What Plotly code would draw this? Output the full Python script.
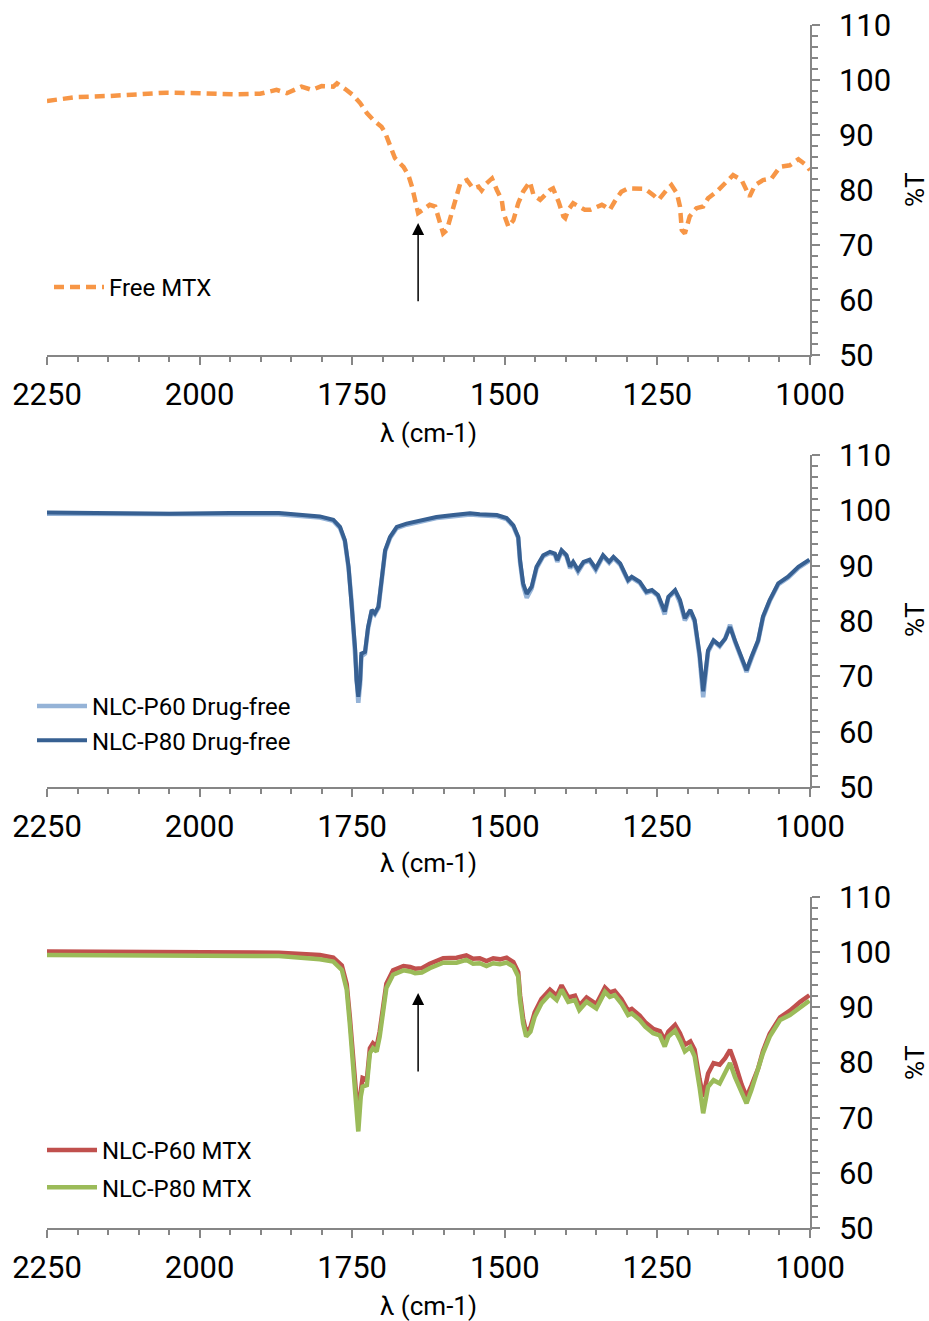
import plotly.graph_objects as go

# ---------------- data: wavenumber (cm-1) and transmittance (%T) ----------------
free_mtx_wn = [2250, 2201, 2147, 2054, 1999, 1945, 1901, 1874, 1857, 1833, 1816, 1800, 1781, 1775,
               1762, 1748, 1737, 1726, 1715, 1702, 1696, 1688, 1680, 1666, 1658, 1652, 1647, 1642,
               1634, 1623, 1614, 1609, 1601, 1595, 1587, 1582, 1573, 1562, 1552, 1543, 1538, 1530,
               1521, 1513, 1505, 1502, 1494, 1486, 1478, 1470, 1459, 1453, 1442, 1426, 1421, 1412,
               1404, 1401, 1396, 1388, 1369, 1360, 1341, 1336, 1328, 1320, 1309, 1298, 1279, 1270,
               1257, 1248, 1235, 1227, 1218, 1213, 1210, 1205, 1197, 1186, 1175, 1167, 1153, 1139,
               1126, 1112, 1104, 1099, 1090, 1077, 1063, 1049, 1033, 1019, 1006, 1000]
free_mtx_t = [96.2, 96.9, 97.1, 97.7, 97.6, 97.4, 97.5, 98.2, 97.6, 98.8, 98.2, 98.9, 98.8, 99.4,
              98.4, 97.2, 95.8, 94.0, 92.7, 91.5, 90.4, 87.9, 85.8, 84.2, 82.7, 80.6, 78.5, 75.8,
              76.4, 77.3, 77.0, 75.2, 72.1, 72.7, 75.8, 78.2, 81.2, 81.8, 80.3, 80.6, 79.9, 81.2,
              82.1, 80.0, 78.2, 75.8, 73.3, 74.5, 77.6, 79.7, 81.5, 79.1, 78.2, 80.0, 80.3, 77.9,
              75.2, 74.9, 76.4, 77.6, 76.4, 76.4, 77.3, 77.0, 76.4, 77.9, 79.7, 80.3, 80.1, 80.2,
              79.1, 78.2, 80.0, 80.9, 79.4, 77.0, 72.7, 72.1, 75.2, 76.7, 77.0, 78.5, 79.7, 81.2,
              82.7, 81.8, 80.0, 78.8, 80.9, 81.8, 82.1, 84.2, 84.5, 85.6, 84.5, 83.6]

drugfree_wn = [2250, 2150, 2050, 1950, 1870, 1803, 1781, 1770, 1762, 1756, 1751, 1745, 1743, 1740,
               1737, 1735, 1729, 1724, 1718, 1713, 1707, 1702, 1696, 1688, 1677, 1661, 1639, 1612,
               1584, 1557, 1541, 1513, 1497, 1486, 1478, 1475, 1470, 1464, 1456, 1448, 1437, 1426,
               1418, 1414, 1407, 1399, 1393, 1388, 1380, 1371, 1361, 1351, 1339, 1329, 1322, 1311,
               1298, 1292, 1279, 1268, 1259, 1249, 1238, 1232, 1221, 1213, 1205, 1196, 1189, 1181,
               1175, 1167, 1158, 1148, 1139, 1131, 1123, 1112, 1104, 1096, 1085, 1077, 1066, 1052,
               1036, 1019, 1001]
p60_drugfree_t = [99.4, 99.3, 99.2, 99.3, 99.3, 98.7, 98.1, 96.8, 94.4, 89.6, 83.5, 74.2, 68.6, 65.2,
                  68.6, 73.6, 74.1, 78.6, 81.8, 81.2, 82.4, 86.6, 92.6, 95.0, 96.8, 97.4, 98.0, 98.6,
                  98.95, 99.25, 99.1, 98.95, 98.4, 97.1, 95.0, 90.6, 86.4, 84.2, 85.9, 89.5, 91.7, 92.3,
                  92.0, 90.7, 92.6, 91.7, 89.5, 90.5, 88.9, 90.5, 90.9, 89.2, 91.7, 90.5, 91.4, 90.2,
                  87.2, 87.8, 86.9, 85.1, 85.4, 84.5, 81.2, 84.2, 85.4, 83.3, 80.1, 81.8, 79.9, 73.6,
                  66.2, 74.4, 76.4, 75.4, 76.8, 79.3, 76.3, 73.2, 70.8, 73.2, 76.3, 80.6, 83.6, 86.6,
                  87.8, 89.6, 90.9]
p80_drugfree_t = [99.6, 99.5, 99.4, 99.5, 99.5, 98.9, 98.3, 97.0, 94.6, 89.8, 83.8, 74.7, 69.3, 66.3,
                  69.3, 74.1, 74.4, 78.9, 82.0, 81.4, 82.6, 86.8, 92.8, 95.2, 97.0, 97.6, 98.2, 98.8,
                  99.15, 99.45, 99.3, 99.15, 98.6, 97.3, 95.2, 91.0, 86.8, 84.9, 86.2, 89.8, 91.9, 92.5,
                  92.2, 91.0, 92.8, 91.9, 89.8, 90.7, 89.2, 90.7, 91.1, 89.5, 91.9, 90.7, 91.6, 90.4,
                  87.4, 88.0, 87.1, 85.3, 85.6, 84.7, 81.7, 84.4, 85.6, 83.8, 80.5, 82.0, 80.2, 74.1,
                  67.3, 74.7, 76.5, 75.6, 76.8, 78.9, 76.5, 73.5, 71.1, 73.5, 76.5, 80.8, 83.8, 86.8,
                  88.0, 89.8, 91.1]

mtx_wn = [2250, 2150, 2050, 1950, 1870, 1803, 1781, 1767, 1759, 1754, 1748, 1743, 1740, 1736,
          1733, 1726, 1721, 1716, 1710, 1705, 1699, 1694, 1683, 1666, 1655, 1647, 1636, 1623,
          1601, 1579, 1563, 1552, 1541, 1530, 1519, 1508, 1497, 1486, 1478, 1475, 1470, 1465,
          1458, 1451, 1440, 1426, 1415, 1407, 1396, 1385, 1378, 1366, 1350, 1336, 1328, 1320,
          1309, 1298, 1292, 1279, 1270, 1257, 1246, 1238, 1232, 1221, 1213, 1205, 1196, 1189,
          1181, 1175, 1167, 1158, 1148, 1139, 1131, 1123, 1112, 1104, 1096, 1085, 1077, 1066,
          1049, 1033, 1016, 1001]
p60_mtx_t = [100.1, 100.0, 99.9, 99.9, 99.9, 99.5, 99.0, 97.6, 94.2, 88.4, 80.0, 73.6, 71.4, 75.4,
             77.2, 76.9, 82.6, 83.5, 82.9, 85.6, 90.9, 94.3, 96.7, 97.5, 97.3, 97.0, 97.1, 97.9,
             98.9, 99.0, 99.4, 98.8, 98.9, 98.4, 98.9, 98.7, 99.0, 98.2, 96.4, 92.2, 88.0, 85.5,
             86.4, 89.1, 91.5, 93.2, 92.1, 94.0, 91.8, 92.1, 90.3, 91.8, 90.6, 93.6, 92.7, 93.0,
             91.5, 89.4, 89.7, 88.5, 87.3, 86.1, 85.7, 84.1, 85.6, 86.8, 85.3, 83.2, 83.8, 82.3,
             77.0, 73.8, 78.0, 79.9, 79.6, 80.8, 82.3, 79.9, 76.0, 73.8, 75.8, 78.9, 82.1, 85.2,
             88.2, 89.4, 91.0, 92.2]
p80_mtx_t = [99.5, 99.4, 99.3, 99.3, 99.3, 98.7, 98.3, 96.8, 93.2, 87.1, 78.1, 70.8, 67.5, 73.8,
             75.6, 75.9, 81.7, 82.6, 82.0, 84.7, 90.1, 93.5, 95.9, 96.7, 96.5, 96.2, 96.3, 97.1,
             98.1, 98.1, 98.6, 97.9, 98.0, 97.5, 98.0, 97.8, 98.1, 97.4, 95.6, 91.3, 87.1, 84.7,
             85.6, 88.3, 90.7, 92.4, 91.3, 93.2, 91.0, 91.3, 89.5, 91.0, 89.8, 92.8, 91.9, 92.2,
             90.7, 88.6, 88.9, 87.7, 86.5, 85.3, 84.9, 82.9, 84.7, 85.8, 84.1, 82.0, 82.8, 81.1,
             75.6, 70.8, 75.6, 76.8, 76.2, 78.1, 79.9, 77.4, 74.4, 72.6, 75.0, 78.7, 81.7, 84.7,
             87.7, 88.6, 90.1, 91.2]

x_ticks = [2250, 2000, 1750, 1500, 1250, 1000]
y_ticks = [50, 60, 70, 80, 90, 100, 110]

# ---------------- styling ----------------
FONT = "Roboto"
AXIS_GREY = "#868686"
W, H = 929, 1321
ML, MR = 47, 119           # plot area spans x = 47 .. 810 px
PW = W - ML - MR


def px_x(px):
    """pixel column -> paper x"""
    return (px - ML) / PW


def px_y(py):
    """pixel row -> paper y"""
    return 1 - py / H


fig = go.Figure()

fig.add_trace(go.Scatter(x=free_mtx_wn, y=free_mtx_t, mode="lines", name="Free MTX",
                         line=dict(color="#F79646", width=4.5, dash="10px,6px"),
                         xaxis="x", yaxis="y", legend="legend"))

fig.add_trace(go.Scatter(x=drugfree_wn, y=p60_drugfree_t, mode="lines", name="NLC-P60 Drug-free",
                         line=dict(color="#95B3D7", width=4.5), legendgroup="a",
                         xaxis="x2", yaxis="y2", legend="legend2"))
fig.add_trace(go.Scatter(x=drugfree_wn, y=p80_drugfree_t, mode="lines", name="NLC-P80 Drug-free",
                         line=dict(color="#376092", width=4), legendgroup="b",
                         xaxis="x2", yaxis="y2", legend="legend2"))

fig.add_trace(go.Scatter(x=mtx_wn, y=p60_mtx_t, mode="lines", name="NLC-P60 MTX",
                         line=dict(color="#C0504D", width=4.5), legendgroup="c",
                         xaxis="x3", yaxis="y3", legend="legend3"))
fig.add_trace(go.Scatter(x=mtx_wn, y=p80_mtx_t, mode="lines", name="NLC-P80 MTX",
                         line=dict(color="#9BBB59", width=4.5), legendgroup="d",
                         xaxis="x3", yaxis="y3", legend="legend3"))

panels = [(25, 355), (455, 787), (897, 1228)]  # top/bottom pixel rows of each plot area


def xaxis_cfg(anchor):
    return dict(domain=[0, 1], anchor=anchor, range=[2250, 1000], autorange=False,
                tickmode="array", tickvals=x_ticks, ticktext=[str(v) for v in x_ticks],
                ticks="outside", ticklen=8, tickwidth=1.5, tickcolor=AXIS_GREY,
                showline=True, linecolor=AXIS_GREY, linewidth=1.5,
                showgrid=False, zeroline=False, ticklabelstandoff=3, automargin=False,
                tickfont=dict(family=FONT, size=31, color="#000000"),
                minor=dict(tickmode="linear", tick0=1000, dtick=50, ticks="outside",
                           ticklen=5, tickwidth=1.5, tickcolor=AXIS_GREY, showgrid=False))


def yaxis_cfg(anchor, top, bottom):
    return dict(domain=[px_y(bottom), px_y(top)], anchor=anchor, side="right", range=[50, 110],
                autorange=False, tickmode="array", tickvals=y_ticks,
                ticks="outside", ticklen=8, tickwidth=1.5, tickcolor=AXIS_GREY,
                showline=True, linecolor=AXIS_GREY, linewidth=1.5,
                showgrid=False, zeroline=False, ticklabelstandoff=13, automargin=False,
                tickfont=dict(family=FONT, size=31, color="#000000"),
                minor=dict(tickmode="linear", tick0=50, dtick=2, ticks="outside",
                           ticklen=6, tickwidth=1.5, tickcolor=AXIS_GREY, showgrid=False))


layout = dict(width=W, height=H,
              margin=dict(l=ML, r=MR, t=0, b=0, autoexpand=False),
              paper_bgcolor="white", plot_bgcolor="white",
              font=dict(family=FONT, color="#000000"),
              showlegend=True)

for i, (top, bottom) in enumerate(panels, start=1):
    sx = "" if i == 1 else str(i)
    layout["xaxis" + sx] = xaxis_cfg("y" + sx)
    layout["yaxis" + sx] = yaxis_cfg("x" + sx, top, bottom)

legend_common = dict(bgcolor="rgba(0,0,0,0)", borderwidth=0, xanchor="left", yanchor="top",
                     font=dict(family=FONT, size=24, color="#000000"),
                     itemwidth=50, traceorder="grouped", tracegroupgap=0, itemclick=False)
layout["legend"] = dict(legend_common, x=px_x(49), y=px_y(265))
layout["legend2"] = dict(legend_common, x=px_x(32), y=px_y(684), tracegroupgap=0)
layout["legend3"] = dict(legend_common, x=px_x(42), y=px_y(1128), tracegroupgap=3)

annotations = []
title_rows = [433, 863, 1306]
pt_rows = [190, 620, 1063]
for r in title_rows:
    annotations.append(dict(text="λ (cm-1)", xref="paper", yref="paper",
                            x=0.5, y=px_y(r),
                            xanchor="center", yanchor="middle", showarrow=False,
                            font=dict(family=FONT, size=26, color="#000000")))
for r in pt_rows:
    annotations.append(dict(text="%T", xref="paper", yref="paper", x=px_x(915), y=px_y(r),
                            xanchor="center", yanchor="middle", textangle=-90, showarrow=False,
                            font=dict(family=FONT, size=26, color="#000000")))

# arrows marking the 1642 cm-1 band
annotations.append(dict(x=1642, y=74.0, ax=1642, ay=59.5, xref="x", yref="y",
                        axref="x", ayref="y", text="", showarrow=True,
                        arrowhead=2, arrowsize=1.6, arrowwidth=1.5, arrowcolor="#000000"))
annotations.append(dict(x=1642, y=92.6, ax=1642, ay=78.1, xref="x3", yref="y3",
                        axref="x3", ayref="y3", text="", showarrow=True,
                        arrowhead=2, arrowsize=1.6, arrowwidth=1.5, arrowcolor="#000000"))
layout["annotations"] = annotations

fig.update_layout(layout)
fig.write_html("out.html")
